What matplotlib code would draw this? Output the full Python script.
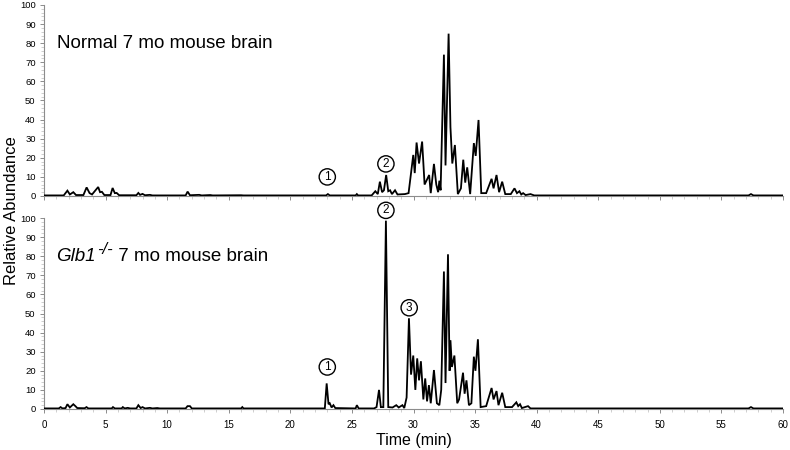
import matplotlib
matplotlib.use("Agg")
import matplotlib.pyplot as plt
from matplotlib.ticker import MultipleLocator
from matplotlib.transforms import offset_copy

plt.rcParams['font.family'] = ['Liberation Sans', 'DejaVu Sans']

# ---- data: chromatogram traces (time in min, relative abundance %) ----
normal_time = [0.0, 1.6, 1.9, 2.1, 2.38, 2.6, 3.2, 3.46, 3.7, 3.9, 4.4, 4.55, 4.7, 4.9,
               5.4, 5.57, 5.75, 5.9, 6.1, 7.5, 7.66, 7.8, 8.0, 8.2, 8.6, 8.8, 11.5, 11.66,
               11.85, 12.6, 12.8, 13.5, 13.7, 16.0, 16.2, 22.9, 23.05, 23.2, 25.3, 25.4,
               25.5, 26.6, 26.9, 27.1, 27.27, 27.45, 27.6, 27.78, 27.95, 28.1, 28.25, 28.5,
               28.7, 29.3, 29.6, 29.98, 30.1, 30.25, 30.45, 30.7, 30.9, 31.05, 31.27, 31.4,
               31.66, 31.85, 32.0, 32.1, 32.2, 32.47, 32.6, 32.85, 33.0, 33.15, 33.36, 33.6,
               33.85, 34.04, 34.2, 34.36, 34.6, 34.9, 35.05, 35.28, 35.5, 35.9, 36.34, 36.5,
               36.74, 36.95, 37.2, 37.45, 37.9, 38.2, 38.4, 38.6, 38.75, 38.9, 39.1, 39.5,
               39.8, 57.2, 57.4, 57.6, 60.0]
normal_abund = [0.3, 0.3, 2.8, 0.8, 2.0, 0.5, 0.5, 4.5, 1.5, 0.8, 4.7, 2.0, 2.2, 0.5,
                0.5, 4.2, 1.5, 1.6, 0.4, 0.4, 1.6, 0.6, 1.1, 0.4, 0.6, 0.3, 0.3, 2.3,
                0.4, 0.6, 0.3, 0.5, 0.3, 0.4, 0.3, 0.3, 1.0, 0.3, 0.3, 1.0,
                0.3, 0.3, 2.5, 1.0, 7.5, 2.0, 3.0, 11.0, 2.5, 3.0, 1.0, 3.0,
                0.8, 1.0, 1.5, 21.5, 12, 28, 17, 28.5, 6, 8, 11, 1.5,
                16.8, 6, 2, 8, 3, 74, 16, 85, 36, 17, 26.7, 1,
                4, 19, 7, 15, 1, 27.7, 21, 39.8, 1.5, 1.5, 9, 4,
                11, 2, 7.5, 1, 1, 4, 1.5, 2.5, 0.8, 1.5, 0.5, 1.0,
                0.3, 0.3, 1.0, 0.3, 0.3]

glb1_time = [0.0, 1.2, 1.35, 1.5, 1.75, 1.9, 2.1, 2.38, 2.55, 2.7, 3.3, 3.45, 3.6, 5.5,
             5.6, 5.75, 6.3, 6.4, 6.55, 6.8, 7.0, 7.5, 7.66, 7.85, 8.0, 8.2, 8.6, 8.8,
             9.2, 9.4, 11.5, 11.65, 11.85, 12.0, 16.0, 16.1, 16.2, 22.8, 22.95, 23.1,
             23.2, 23.35, 23.5, 23.65, 25.3, 25.4, 25.55, 26.8, 27.0, 27.2, 27.35, 27.55,
             27.76, 27.95, 28.3, 28.6, 28.8, 29.1, 29.25, 29.44, 29.63, 29.8, 29.98, 30.15,
             30.3, 30.45, 30.6, 30.8, 30.95, 31.1, 31.25, 31.4, 31.66, 31.9, 32.1, 32.25,
             32.47, 32.6, 32.8, 32.93, 33.0, 33.12, 33.32, 33.55, 33.7, 34.02, 34.15, 34.3,
             34.5, 34.7, 34.9, 35.03, 35.23, 35.45, 35.9, 36.34, 36.5, 36.74, 36.9, 37.2,
             37.45, 38.0, 38.35, 38.5, 38.65, 38.8, 39.3, 39.5, 57.2, 57.4, 57.6, 60.0]
glb1_abund = [0.3, 0.3, 1.0, 0.3, 0.5, 2.5, 0.8, 2.5, 1.5, 0.5, 0.4, 1.0, 0.3, 0.3,
              1.0, 0.3, 0.3, 1.0, 0.3, 0.6, 0.3, 0.3, 2.0, 0.5, 1.0, 0.3, 0.6, 0.3,
              0.5, 0.3, 0.3, 1.5, 1.5, 0.3, 0.3, 1.0, 0.3, 0.3, 13.4, 2.5,
              3.0, 0.8, 2.0, 0.5, 0.3, 2.0, 0.3, 0.3, 1.0, 10, 1.0, 1.0,
              98.6, 1.0, 0.8, 2.0, 0.8, 2.0, 0.5, 6, 47.5, 18, 28, 10,
              26.5, 15, 25, 5, 16, 4, 12.5, 3, 20.4, 3, 2, 10,
              72, 13.6, 81, 20, 36, 22, 28, 3, 5, 19, 8, 15,
              2, 3, 27.4, 20, 36.5, 1, 1.5, 11, 5, 9.4, 2, 8.5,
              1, 1, 3.5, 1.5, 2.5, 0.5, 1.5, 0.3, 0.3, 1.0, 0.3, 0.3]

# circled peak labels: (panel, label, time, abundance)
peak_labels = [(0, "1", 23.0, 10.0), (0, "2", 27.76, 16.8),
               (1, "1", 23.0, 22.0), (1, "2", 27.76, 104.0), (1, "3", 29.65, 53.0)]

# panel titles as pieces: (text, italic, superscript)
panel_titles = [[("Normal 7 mo mouse brain", False, False)],
                [("Glb1", True, False), ("-/-", True, True), (" 7 mo mouse brain", False, False)]]

fig = plt.figure(figsize=(7.9, 4.5), dpi=100)
ax_top = fig.add_axes([44/790, 1-196/450, 739/790, 191/450])
ax_bot = fig.add_axes([44/790, 1-409/450, 739/790, 191/450])
axes = [ax_top, ax_bot]
traces = [(normal_time, normal_abund), (glb1_time, glb1_abund)]
renderer = fig.canvas.get_renderer()

for i, ax in enumerate(axes):
    t, a = traces[i]
    ax.plot(t, a, color='black', lw=1.3, solid_joinstyle='miter', zorder=3)
    ax.set_xlim(0, 60)
    ax.set_ylim(0, 100)
    for s in ['top', 'right']:
        ax.spines[s].set_visible(False)
    for s in ['left', 'bottom']:
        ax.spines[s].set_color('#8c8c8c')
        ax.spines[s].set_linewidth(0.8)
    ax.yaxis.set_major_locator(MultipleLocator(10))
    ax.yaxis.set_minor_locator(MultipleLocator(2))
    ax.xaxis.set_major_locator(MultipleLocator(5))
    ax.xaxis.set_minor_locator(MultipleLocator(1))
    ax.tick_params(axis='both', which='major', direction='out', length=3, width=0.7,
                   color='#8c8c8c', labelsize=7, pad=3)
    ax.tick_params(axis='both', which='minor', direction='out', length=2.5, width=0.6,
                   color='#c8c8c8')
    ax.tick_params(axis='y', labelsize=6.8)
    ax.patch.set_alpha(0)

    # title built from pieces, placed one after another
    x_off = 0.0
    for txt, ital, sup in panel_titles[i]:
        fs = 12 if sup else 13.5
        dy = 4.5 if sup else 0
        tr = offset_copy(ax.transAxes, fig=fig, x=x_off + (1.0 if sup else 0), y=dy,
                         units='points')
        tobj = ax.text(0.017, 0.80, txt, transform=tr, fontsize=fs,
                       style='italic' if ital else 'normal', ha='left', va='center')
        bb = tobj.get_window_extent(renderer=renderer)
        x_off += bb.width * 72 / fig.dpi + (1.0 if sup else 0)

ax_top.tick_params(axis='x', labelbottom=False)
ax_bot.tick_params(axis='x', pad=5)
ax_bot.set_xlabel("Time (min)", fontsize=11.5, labelpad=2)

for panel, lab, tt, aa in peak_labels:
    axes[panel].text(tt, aa, lab, ha='center', va='center', fontsize=8.5, zorder=5,
                     clip_on=False,
                     bbox=dict(boxstyle='circle,pad=0.18', fc='white', ec='black', lw=1.0))

fig.text(0.014, 1-211/450, "Relative Abundance", rotation=90, ha='center', va='center',
         fontsize=12)

fig.savefig("out.png", dpi=100)
